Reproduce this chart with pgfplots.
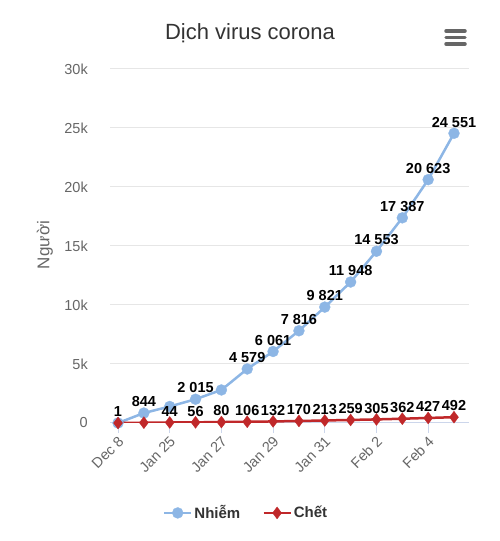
\documentclass[border=0pt]{standalone}
\usepackage{pgfplots}
\pgfplotsset{compat=1.18}
\usepackage{fontspec}
\setmainfont{Liberation Sans}
\definecolor{cblue}{HTML}{8DB6E5}
\definecolor{cred}{HTML}{C0282A}
\definecolor{gridc}{HTML}{E6E6E6}
\definecolor{axisc}{HTML}{CCD6EB}
\definecolor{lblc}{HTML}{666666}
\definecolor{titc}{HTML}{333333}
\begin{document}
\begin{tikzpicture}[x=1pt,y=1pt]
\path[use as bounding box] (0,0) rectangle (500,541);
\begin{axis}[
  at={(110pt,118pt)}, anchor=south west,
  scale only axis, width=359pt, height=354pt,
  xmin=-0.31, xmax=13.58, ymin=0, ymax=30000,
  axis x line*=bottom, axis y line*=left,
  x axis line style={-, draw=axisc, line width=1pt},
  y axis line style={draw=none},
  xtick={0,2,...,12},
  xticklabels={Dec 8,Jan 25,Jan 27,Jan 29,Jan 31,Feb 2,Feb 4},
  ytick={0,5000,...,30000},
  yticklabels={0,5k,10k,15k,20k,25k,30k},
  scaled y ticks=false,
  ymajorgrids, grid style={draw=gridc, line width=1pt},
  tick align=outside, major tick length=10pt,
  xtick style={draw=axisc, line width=1pt},
  ytick style={draw=none},
  xticklabel style={rotate=45, anchor=north east, font=\fontsize{14.5}{16}\selectfont, text=lblc, inner sep=1pt, xshift=-1pt},
  yticklabel style={anchor=east, font=\fontsize{14.5}{16}\selectfont, text=lblc, inner sep=0pt, xshift=-12pt},
  nodes near coords, point meta=explicit symbolic,
  every node near coord/.append style={font=\bfseries\fontsize{14.5}{16}\selectfont, text=black, anchor=south, inner sep=0pt, yshift=6pt},
  legend columns=2,
  legend style={draw=none, fill=none, at={(0.379,-0.254)}, anchor=center,
    font=\bfseries\fontsize{15}{18}\selectfont, text=titc,
    /tikz/every even column/.append style={column sep=20pt}},
  legend image code/.code={\draw[mark repeat=2,mark phase=2,#1] plot coordinates {(0pt,0pt) (13.5pt,0pt) (27pt,0pt)};},
]
\addplot[color=cblue, line width=2.5pt, mark=*, mark size=5.5pt, mark options={solid, fill=cblue, draw=cblue, line width=0.3pt}]
coordinates {
(0,1) [1]
(1,844) [844]
(2,1400) [{}]
(3,2015) [2 015]
(4,2800) [{}]
(5,4579) [4 579]
(6,6061) [6 061]
(7,7816) [7 816]
(8,9821) [9 821]
(9,11948) [11 948]
(10,14553) [14 553]
(11,17387) [17 387]
(12,20623) [20 623]
(13,24551) [24 551]
};
\addlegendentry{Nhiễm}
\addplot[color=cred, line width=2.5pt, mark=diamond*, mark size=6pt, mark options={solid, fill=cred, draw=cred, line width=0.3pt}]
coordinates {
(0,0) [{}]
(1,25) [{}]
(2,44) [44]
(3,56) [56]
(4,80) [80]
(5,106) [106]
(6,132) [132]
(7,170) [170]
(8,213) [213]
(9,259) [259]
(10,305) [305]
(11,362) [362]
(12,427) [427]
(13,492) [492]
};
\addlegendentry{Chết}
\end{axis}
\node[font=\fontsize{22}{26}\selectfont, text=titc] at (250,508) {Dịch virus corona};
\node[rotate=90, font=\fontsize{17}{20}\selectfont, text=lblc] at (45,296) {Người};
\draw[lblc, line width=3.5pt, line cap=round] (446,510) -- (465,510);
\draw[lblc, line width=3.5pt, line cap=round] (446,503.5) -- (465,503.5);
\draw[lblc, line width=3.5pt, line cap=round] (446,497) -- (465,497);
\end{tikzpicture}
\end{document}
